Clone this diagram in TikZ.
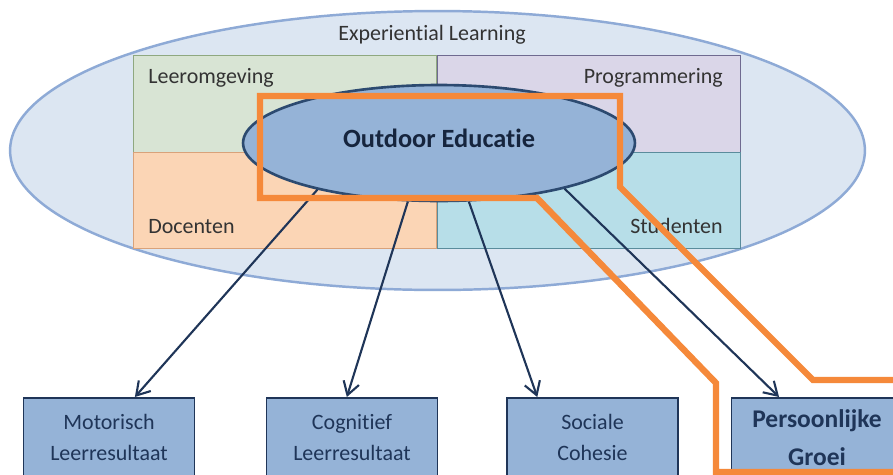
\documentclass[tikz,border=0pt]{standalone}
\usepackage{fontspec}
\setmainfont{Carlito}[Ligatures=NoCommon]
\usetikzlibrary{shapes.geometric,arrows.meta,calc}

\definecolor{skyfill}{HTML}{DCE6F2}
\definecolor{skyline}{HTML}{8EAAD6}
\definecolor{leerfill}{HTML}{D8E4D4}
\definecolor{leerline}{HTML}{8FA880}
\definecolor{progfill}{HTML}{DAD6E8}
\definecolor{progline}{HTML}{6F6A90}
\definecolor{docfill}{HTML}{FBD5B5}
\definecolor{docline}{HTML}{D9A27A}
\definecolor{studfill}{HTML}{B7DEE8}
\definecolor{studline}{HTML}{5A8C9C}
\definecolor{odfill}{HTML}{95B3D7}
\definecolor{odline}{HTML}{2C4A70}
\definecolor{navy}{HTML}{1F3558}
\definecolor{oranje}{HTML}{F5893A}

\begin{document}
\begin{tikzpicture}[x=0.02cm,y=-0.02cm,
  quad/.style={draw,line width=0.7pt,minimum width=6.06cm,minimum height=1.94cm,inner sep=0pt},
  tag/.style={font=\fontsize{12.5}{15}\selectfont,text=black!80,inner sep=0pt},
  result/.style={draw=navy,line width=0.9pt,fill=odfill,minimum width=3.42cm,minimum height=1.6cm,
    anchor=north,align=center,text=navy,font=\fontsize{12.5}{17.6}\selectfont},
  link/.style={draw=navy,line width=1.2pt,-{Straight Barb[length=2.6mm,width=3.2mm]}}]

  \path[use as bounding box,clip] (0,0) rectangle (893,474);
  \fill[white] (0,0) rectangle (893,474);

  % big ellipse around everything
  \node[ellipse,draw=skyline,line width=1.4pt,fill=skyfill,minimum width=17.1cm,minimum height=5.58cm] (exp) at (437.5,150.5) {};
  \node[tag,anchor=base] (expTxt) at (432,40) {Experiential Learning};

  % four quarters
  \node[quad,draw=leerline,fill=leerfill,anchor=north east] (leer) at (437,55) {};
  \node[quad,draw=progline,fill=progfill,anchor=north west] (prog) at (437,55) {};
  \node[quad,draw=docline,fill=docfill,anchor=north east,minimum height=1.92cm] (doc) at (437,152) {};
  \node[quad,draw=studline,fill=studfill,anchor=north west,minimum height=1.92cm] (stud) at (437,152) {};
  \node[tag,anchor=base west] (leerTxt) at (148,83) {Leeromgeving};
  \node[tag,anchor=base east] (progTxt) at (723,83) {Programmering};
  \node[tag,anchor=base west] (docTxt) at (148,233) {Docenten};
  \node[tag,anchor=base east] (studTxt) at (723,233) {Studenten};

  % centre
  \node[ellipse,draw=odline,line width=1.5pt,fill=odfill,minimum width=7.84cm,minimum height=2.32cm,
    text depth=5.5pt,font=\bfseries\fontsize{15}{18}\selectfont,text=navy!70!black] (od) at (439,143) {Outdoor Educatie};

  % results
  \node[result] (motor) at (109,397) {Motorisch\\Leerresultaat};
  \node[result] (cogn) at (352,397) {Cognitief\\Leerresultaat};
  \node[result] (soc) at (592.5,397) {Sociale\\Cohesie};
  \node[result,font=\bfseries\fontsize{14.5}{21.6}\selectfont] (groei) at (817,397) {Persoonlijke\\Groei};

  \draw[link] (od.201) -- ($(motor.north west)!0.65!(motor.north east)$);
  \draw[link] (od.242) -- ($(cogn.north west)!0.47!(cogn.north east)$);
  \draw[link] (od.297) -- ($(soc.north west)!0.18!(soc.north east)$);
  \draw[link] (od.340) -- ($(groei.north west)!0.28!(groei.north east)$);

  % orange frame
  \draw[oranje,line width=3.6pt] (260,96) -- (620,96) -- (620,187) -- (813,380) -- (910,380) -- (910,472)
    -- (716,472) -- (716,383) -- (537,198) -- (260,198) -- cycle;
\end{tikzpicture}
\end{document}
